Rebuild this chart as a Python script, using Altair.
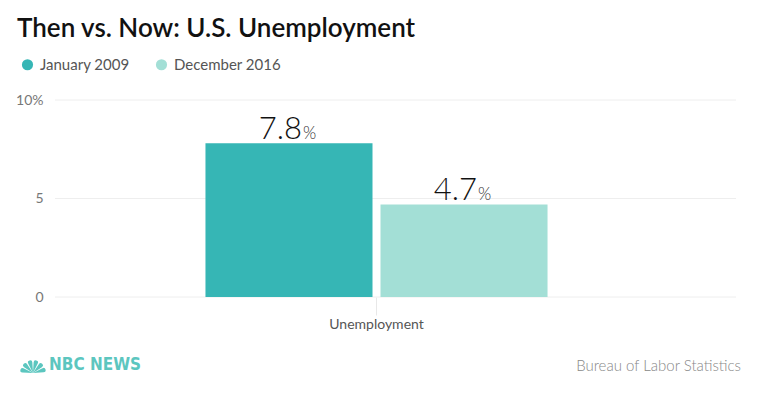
import altair as alt
import pandas as pd

# ---- data ----
category = "Unemployment"
series = ["January 2009", "December 2016"]
values = [7.8, 4.7]
colors = ["#36b6b5", "#a3dfd6"]
y_ticks = [0, 5, 10]
title_text = "Then vs. Now: U.S. Unemployment"
source_text = "Bureau of Labor Statistics"
brand_text = "NBC NEWS"

df = pd.DataFrame({"category": [category] * len(series), "series": series, "value": values})
grid_df = pd.DataFrame({"tick": y_ticks})
one = pd.DataFrame({"k": [0]})

FONT = "Lato"
yscale = alt.Scale(domain=[0, 10], nice=False, zero=True)
y_axis = alt.Axis(
    title=None, values=y_ticks, grid=False, domain=False, ticks=False,
    labelExpr="datum.value == 10 ? '10%' : datum.label",
    labelFont=FONT, labelFontSize=14, labelColor="#777777",
    labelPadding=0, offset=-26, labelBaseline="middle",
)
x_enc = alt.X(
    "category:N", title=None,
    scale=alt.Scale(paddingInner=0, paddingOuter=0.551),
    axis=alt.Axis(domain=False, ticks=True, tickSize=18, tickColor="#e8e8e8",
                  labelAngle=0, labelFont=FONT, labelFontSize=14, labelColor="#555555",
                  labelPadding=2),
)
xo_enc = alt.XOffset("series:N", sort=series, scale=alt.Scale(paddingInner=0.0457, paddingOuter=0))

grid = alt.Chart(grid_df).mark_rule(color="#eeeeee", strokeWidth=1).encode(
    y=alt.Y("tick:Q", scale=yscale, axis=y_axis),
    x=alt.value(38), x2=alt.value(719),
)

bars = alt.Chart(df).mark_bar().encode(
    x=x_enc, xOffset=xo_enc,
    y=alt.Y("value:Q", scale=yscale, axis=y_axis),
    color=alt.Color(
        "series:N", sort=series, scale=alt.Scale(domain=series, range=colors),
        legend=alt.Legend(
            title=None, orient="none", direction="horizontal", legendX=3, legendY=-43,
            symbolType="circle", symbolSize=125, symbolStrokeWidth=0,
            labelFont=FONT, labelFontSize=15, labelColor="#555555",
            labelOffset=5, columnPadding=24,
        ),
    ),
)

num = alt.Chart(df).mark_text(
    align="right", baseline="alphabetic", dx=13, dy=-4,
    font=FONT, fontSize=31, fontWeight=300, color="#111111",
).encode(
    x=x_enc, xOffset=xo_enc,
    y=alt.Y("value:Q", scale=yscale, axis=y_axis),
    text=alt.Text("value:Q", format=".1f"),
)

pct = alt.Chart(df).mark_text(
    align="left", baseline="alphabetic", dx=14, dy=-4,
    font=FONT, fontSize=17, fontWeight=300, color="#333333",
).encode(
    x=x_enc, xOffset=xo_enc,
    y=alt.Y("value:Q", scale=yscale, axis=y_axis),
    text=alt.value("%"),
)

source = alt.Chart(one).mark_text(
    text=source_text, align="right", baseline="middle",
    font=FONT, fontSize=15, fontWeight=300, color="#888888",
).encode(x=alt.value(724), y=alt.value(266))

brand = alt.Chart(one).mark_text(
    text=brand_text, align="left", baseline="middle",
    font="DejaVu Sans Condensed", fontSize=17, fontWeight="bold", color="#5cc6bf",
).encode(x=alt.value(32), y=alt.value(265))

# simple peacock fan for the logo
fan_df = pd.DataFrame({"t0": [4.71 + i * 0.5236 for i in range(6)],
                       "t1": [4.71 + (i + 1) * 0.5236 for i in range(6)]})
fan = alt.Chart(fan_df).mark_arc(color="#5cc6bf", padAngle=0.12, cornerRadius=3).encode(
    theta=alt.Theta("t0:Q", scale=None), theta2="t1",
    radius=alt.value(13), x=alt.value(16), y=alt.value(273),
)

chart = alt.layer(grid, bars, num, pct, source, brand, fan).properties(
    width=719, height=197,
    autosize=alt.AutoSizeParams(type="none"),
    padding={"left": 9, "top": 92, "right": 16, "bottom": 94},
    title=alt.TitleParams(
        text=title_text, anchor="start", orient="top", frame="group",
        font=FONT, fontSize=26, fontWeight=600, color="#111111", offset=15,
    ),
).configure_view(stroke=None)

chart.save("out.html", embed_options={"renderer": "svg", "actions": False})
